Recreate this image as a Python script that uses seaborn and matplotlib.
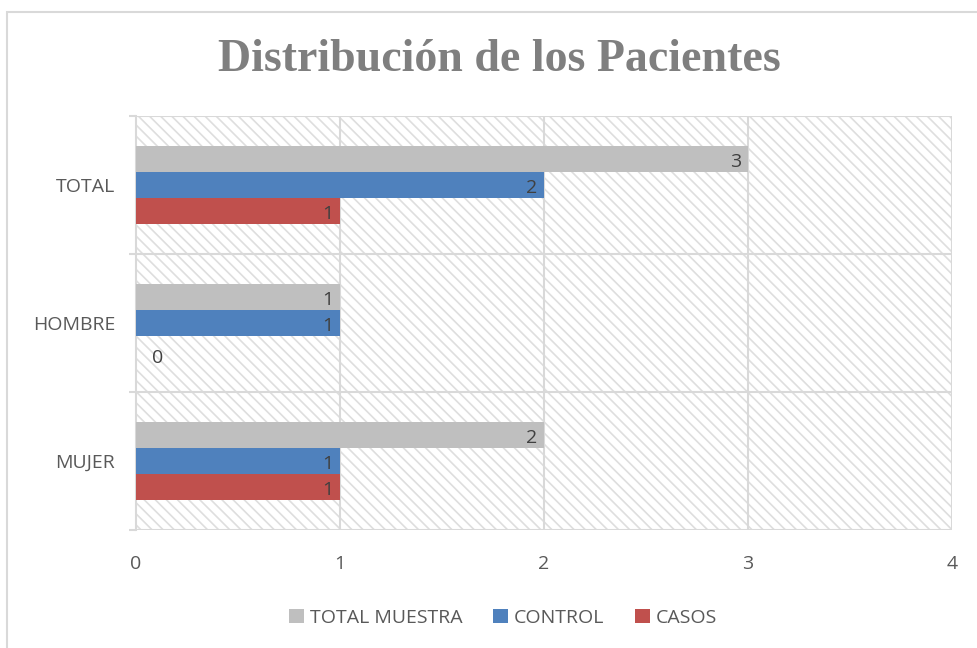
import pandas as pd
import seaborn as sns
import matplotlib.pyplot as plt
from matplotlib.patches import Rectangle

# Chart data
categories = ["TOTAL", "HOMBRE", "MUJER"]
series = ["TOTAL MUESTRA", "CONTROL", "CASOS"]
total_muestra = [3, 1, 2]
control = [2, 1, 1]
casos = [1, 0, 1]
x_ticks = [0, 1, 2, 3, 4]

colors = ["#bfbfbf", "#4f81bd", "#c0504d"]
text_color = "#595959"

df = pd.DataFrame({
    "categoria": categories * 3,
    "serie": [s for s in series for _ in categories],
    "valor": total_muestra + control + casos,
})

sns.set_theme(style="white")
plt.rcParams["font.family"] = ["Open Sans", "DejaVu Sans"]
plt.rcParams["hatch.color"] = "#dedede"
plt.rcParams["hatch.linewidth"] = 1.2

fig = plt.figure(figsize=(9.77, 6.48), dpi=100)
ax = fig.add_axes([0.1392, 0.182, 0.8352, 0.639])

# outer chart border
fig.patches.append(Rectangle((0.007, -0.01), 1.0, 0.992, transform=fig.transFigure,
                             fill=False, edgecolor="#d9d9d9", linewidth=1.5))

ax.patch.set_facecolor("white")
ax.patch.set_hatch("\\\\\\")
ax.patch.set_edgecolor("#dedede")

sns.barplot(data=df, y="categoria", x="valor", hue="serie", order=categories,
            hue_order=series, palette=colors, orient="h", width=0.56, gap=0,
            saturation=1, linewidth=0, ax=ax, legend=True, zorder=3)

# data labels
n = len(series)
bw = 0.56 / n
vals = [total_muestra, control, casos]
for j, s in enumerate(series):
    for i, v in enumerate(vals[j]):
        y = i - 0.28 + bw * (j + 0.5) + 0.02
        if v > 0:
            ax.text(v - 0.035, y, str(v), ha="right", va="center", fontsize=14,
                    color="#404040", zorder=4)
        else:
            ax.text(v + 0.08, y + 0.05, str(v), ha="left", va="center", fontsize=14,
                    color="#404040", zorder=4)

ax.set_xlim(0, 4)
ax.set_ylim(2.5, -0.5)
ax.set_xticks(x_ticks)
ax.set_xticklabels([str(t) for t in x_ticks])
ax.set_xlabel("")
ax.set_ylabel("")
ax.set_yticks(range(len(categories)))
ax.set_yticklabels(categories)
ax.set_yticks([-0.5, 0.5, 1.5, 2.5], minor=True)
ax.tick_params(axis="y", which="major", length=0, pad=15, labelsize=14, labelcolor=text_color)
ax.tick_params(axis="y", which="minor", length=5, color="#d9d9d9", width=1.5, left=True)
ax.tick_params(axis="x", length=0, pad=18, labelsize=14, labelcolor=text_color)

for x in x_ticks[1:]:
    ax.axvline(x, color="#d9d9d9", linewidth=1.5, zorder=1)
for y in [-0.5, 0.5, 1.5, 2.5]:
    ax.axhline(y, color="#d9d9d9", linewidth=1.5, zorder=1)

for side in ["top", "right", "bottom"]:
    ax.spines[side].set_visible(False)
ax.spines["left"].set_color("#d9d9d9")
ax.spines["left"].set_linewidth(1.5)

fig.text(0.511, 0.907, "Distribución de los Pacientes", fontsize=33, fontweight="bold",
         color="#7f7f7f", family="Liberation Serif", ha="center", va="center")

leg = ax.legend(loc="center", bbox_to_anchor=(0.45, -0.212), ncol=3, frameon=False,
                fontsize=14, handlelength=0.75, handleheight=0.75, handletextpad=0.3,
                columnspacing=1.6)
for t in leg.get_texts():
    t.set_color(text_color)

plt.savefig("out.png", dpi=100)
